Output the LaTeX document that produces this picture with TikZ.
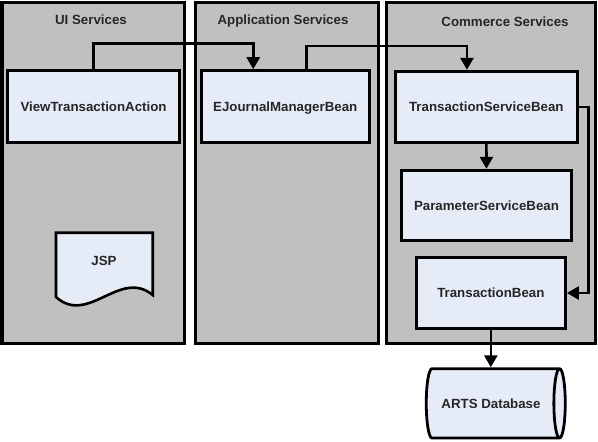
\documentclass[tikz,border=0pt]{standalone}
\usepackage{fontspec}
\setmainfont{Liberation Sans}
\usepackage{tikz}
\usetikzlibrary{shapes.geometric}
\usetikzlibrary{arrows.meta}
\definecolor{panelgray}{HTML}{C0C0C0}
\definecolor{beanblue}{HTML}{E6ECF7}
\tikzset{
	panel/.style={rectangle,draw,line width=3pt,fill=panelgray,minimum width=182.5pt,minimum height=340.5pt},
	title/.style={font=\fontsize{13.3}{16}\selectfont\bfseries,text=black!85,anchor=base},
	bean/.style={rectangle,draw,line width=2.8pt,fill=beanblue,font=\fontsize{13.3}{16}\selectfont\bfseries,
		text=black!85,text height=9.6pt,text depth=0pt,minimum height=72pt},
	store/.style={cylinder,draw,line width=2.8pt,fill=beanblue,aspect=0.7,font=\fontsize{13.3}{16}\selectfont\bfseries,
		text=black!85,text height=9.6pt,text depth=0pt,minimum width=69.3pt,minimum height=139pt},
	call/.style={-{Triangle[length=12pt,width=13pt]},line width=2.7pt}
}

\begin{document}
\begin{tikzpicture}[x=1pt,y=-1pt]
      \useasboundingbox (0,0) rectangle (598,442);

      % layers
      \node[panel] (ui) at (93.25,172.75) {};
      \node[panel] (app) at (286.75,172.75) {};
      \node[panel,minimum width=209.7pt] (com) at (490.85,172.75) {};
      \node[title] (t1) at (91,24) {UI Services};
      \node[title] (t2) at (283,24) {Application Services};
      \node[title] (t3) at (505,26.7) {Commerce Services};

      % beans
      \node[bean,minimum width=171.5pt] (1) at (93.55,106.6) {ViewTransactionAction};
      \node[bean,minimum width=168.1pt] (2) at (285.25,106.6) {EJournalManagerBean};
      \node[bean,minimum width=182.3pt,minimum height=71.3pt] (3) at (486.35,106.85) {TransactionServiceBean};
      \node[bean,minimum width=170.6pt,minimum height=70.1pt] (4) at (486.5,205.25) {ParameterServiceBean};
      \node[bean,minimum width=149.3pt,minimum height=71.4pt] (5) at (490.85,293) {TransactionBean};
      \node[store] (6) at (491,403.35) {ARTS Database};

      % page
      \draw[line width=2.6pt,fill=beanblue] (56,232.7) -- (152.7,232.7) -- (152.7,295)
        .. controls (120,268) and (88,326) .. (56,297) -- cycle;
      \node[title,anchor=center,text height=9.6pt,text depth=0pt] (7) at (104,261) {JSP};

      \draw[call] (1.north) -- ++(0,-26) -| ([xshift=-32pt]2.north);
      \draw[call] ([xshift=21pt]2.north) -- ++(0,-23.2) -| ([xshift=-19.4pt]3.north);
      \draw[call] (3.south) -- (4.north);
      \draw[call] (3.east) -- ++(9.3,0) |- (5.east);
      \draw[call] (5.south) -- (5.south |- 6.north);
    \end{tikzpicture}
\end{document}
